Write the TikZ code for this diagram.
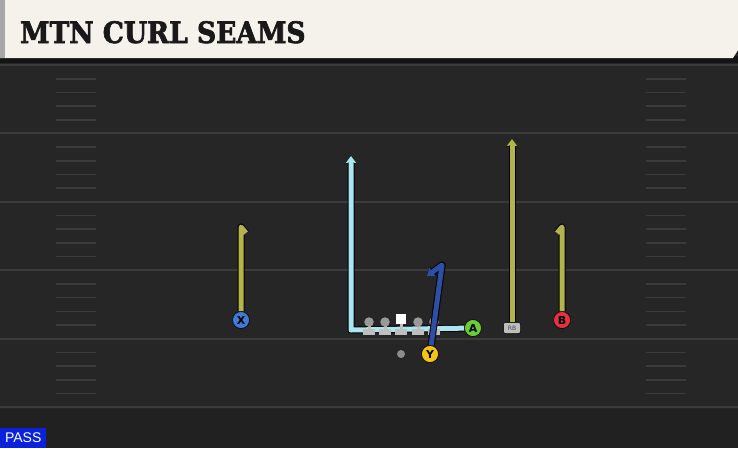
\documentclass[tikz,border=0pt]{standalone}
\usepackage{fontspec}
\newfontfamily\titlefont{DejaVu Serif Condensed}[FakeBold=2.2]
\newfontfamily\labelfont{DejaVu Sans}
\newfontfamily\passfont{Liberation Sans}
\usetikzlibrary{arrows.meta, positioning}
\definecolor{field}{HTML}{262626}
\definecolor{yardline}{HTML}{3B3B3B}
\definecolor{header}{HTML}{F4F2EB}
\definecolor{olive}{HTML}{B4B44C}
\definecolor{iceblue}{HTML}{A9E6F2}
\definecolor{navyroute}{HTML}{2D50A6}
\definecolor{xblue}{HTML}{4079D6}
\definecolor{bred}{HTML}{E0323F}
\definecolor{agreen}{HTML}{68CC35}
\definecolor{yyellow}{HTML}{F2C419}
\definecolor{olgray}{HTML}{BEBEBE}
\definecolor{passblue}{HTML}{0A22DC}

\tikzset{
  route/.style={draw=#1, line width=5pt, line join=round,
    preaction={draw=black, line width=7pt, line join=round}},
  tip/.style={-{Stealth[length=5pt 0.45, width=7pt 0.75, inset=1.5pt]}},
  player/.style={circle, fill=#1, draw=black, line width=0.6pt, minimum size=17pt,
    inner sep=0pt, font=\labelfont\bfseries\fontsize{11}{11}\selectfont},
  lineman/.style={fill=olgray, draw=none},
}

\begin{document}
\begin{tikzpicture}[x=1pt,y=-1pt]
\useasboundingbox (0,0) rectangle (738,448);
\fill[field] (0,0) rectangle (738,448);
\fill[black!92] (0,56) rectangle (738,63);
\fill[black!12!field] (0,409) rectangle (738,448);

\foreach \i in {0,...,5}
  \draw[yardline, line width=2pt] (0,65+68.4*\i) -- (738,65+68.4*\i);
\foreach \i in {0,...,4}
  \foreach \j in {1,...,4} {
    \draw[yardline, line width=1.6pt] (56,65+68.4*\i+13.7*\j) -- (96,65+68.4*\i+13.7*\j);
    \draw[yardline, line width=1.6pt] (646,65+68.4*\i+13.7*\j) -- (686,65+68.4*\i+13.7*\j);
  }

\fill[header] (0,0) -- (738,0) -- (738,50) -- (733,58) -- (0,58) -- cycle;
\fill[black!35] (0,0) rectangle (5,58);
\node[anchor=base west, inner sep=0pt, font=\titlefont\bfseries\fontsize{29.5}{29.5}\selectfont,
  text=black!90] (title) at (20,43) {MTN CURL SEAMS};

\coordinate (Xtop) at (241,227);
\coordinate (Xhook) at (246,233);
\coordinate (Btop) at (562,227);
\coordinate (Bhook) at (557,233);
\coordinate (Acorner) at (351,330);
\coordinate (Atop) at (351,156);
\coordinate (RBtop) at (512,139);
\coordinate (Ytop) at (442,265);
\coordinate (Yhook) at (427,276);

\node[player=xblue] (X) at (241,320) {X};
\node[player=bred] (B) at (562,320) {B};
\node[player=agreen] (A) at (473,328) {A};
\node[player=yyellow] (Y) at (430,354) {Y};
\node[rounded corners=2pt, fill=olgray, draw=black, line width=0.5pt, minimum width=17pt,
  minimum height=11pt, inner sep=0pt, font=\labelfont\fontsize{6}{6}\selectfont,
  text=black!70] (RB) at (512,328) {RB};
\node[circle, fill=black!45, minimum size=8pt, inner sep=0pt] (QB) at (401,354) {};

\draw[route=olive] (X) -- (Xtop) -- (Xhook);
\draw[route=olive] (B) -- (Btop) -- (Bhook);
\draw[route=olive, tip] (RB) -- (RBtop);
\draw[route=iceblue, tip] (A) -- (Acorner) -- (Atop);

\foreach \lx/\ln in {369/LT, 385/LG, 418/RG, 434/RT} {
  \fill[lineman] (\lx-6,329) rectangle (\lx+6,335);
  \fill[lineman] (\lx-1.5,324) rectangle (\lx+1.5,330);
  \node[circle, fill=black!40, minimum size=9.5pt, inner sep=0pt] (\ln) at (\lx,322) {};
}
\fill[lineman] (395,329) rectangle (407,335);
\fill[lineman] (399.5,322) rectangle (402.5,330);
\node[fill=white, minimum size=9.5pt, inner sep=0pt] (C) at (401,319) {};

\draw[route=navyroute, tip] (Y) -- (Ytop) -- (Yhook);
\node[player=yyellow] at (Y) {Y};

\node[anchor=south west, fill=passblue, text=white, inner sep=0pt, minimum width=46pt,
  minimum height=20pt, font=\passfont\fontsize{14}{14}\selectfont] (pass) at (0,448) {PASS};
\end{tikzpicture}
\end{document}
